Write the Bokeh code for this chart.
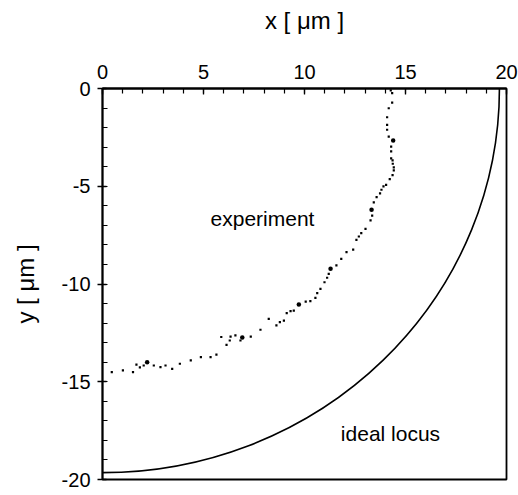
from bokeh.plotting import figure
from bokeh.models import Range1d, LinearAxis, FixedTicker, Label
from bokeh.embed import file_html
from bokeh.resources import INLINE

# ---- data ----
x_ticks = [0, 5, 10, 15, 20]
y_ticks = [0, -5, -10, -15, -20]
x_tick_labels = ["0", "5", "10", "15", "20"]
y_tick_labels = ["0", "-5", "-10", "-15", "-20"]
x_minor = list(range(0, 21))
y_minor = list(range(-20, 1))

ideal_radius = 19.65  # ideal locus: quarter circle centred at origin

exp_x = [14.27, 14.34, 14.34, 14.17, 14.09, 14.09, 14.09, 14.17, 14.29, 14.29,
         14.29, 14.36, 14.37, 14.42, 14.42, 14.36, 14.22, 14.04, 13.91, 13.81,
         13.74, 13.57, 13.43, 13.35, 13.27, 13.02, 12.81, 12.69, 12.57, 12.41,
         12.08, 11.82, 11.58, 11.20, 11.12, 10.99, 10.79, 10.63, 10.54, 10.29,
         10.06, 9.47, 9.31, 9.12, 8.98, 8.78, 8.61, 8.23, 7.82, 7.34,
         6.83, 6.58, 6.34, 5.88, 6.30, 6.14, 5.64, 5.35, 4.87, 4.37,
         3.83, 3.45, 3.12, 2.87, 2.54, 2.04, 1.85, 1.68, 1.51, 1.01, 0.46]
exp_y = [-0.10, -0.24, -0.72, -1.01, -1.47, -1.86, -2.11, -2.46, -2.97, -3.22,
         -3.57, -3.68, -3.85, -4.03, -4.19, -4.43, -4.64, -4.93, -5.01, -5.18,
         -5.36, -5.56, -5.82, -6.50, -6.75, -7.18, -7.40, -7.57, -7.74, -8.24,
         -8.37, -8.71, -9.05, -9.48, -9.68, -9.91, -10.25, -10.47, -10.71, -10.88,
         -10.90, -11.36, -11.39, -11.49, -11.87, -11.95, -12.12, -11.78, -12.34, -12.69,
         -12.89, -12.63, -12.69, -12.71, -12.89, -13.11, -13.61, -13.74, -13.74, -13.91,
         -14.08, -14.34, -14.17, -14.25, -14.17, -14.17, -14.26, -14.12, -14.51, -14.42, -14.51]

# denser clusters of samples along the track
cluster_x = [14.39, 13.32, 11.29, 9.72, 6.92, 2.21]
cluster_y = [-2.66, -6.20, -9.22, -11.05, -12.74, -14.00]

FONT = "Liberation Sans"

p = figure(width=518, height=495, output_backend="svg", toolbar_location=None,
           x_range=Range1d(0, 20), y_range=Range1d(-20, 0),
           x_axis_location=None, y_axis_location=None,
           min_border_left=102, min_border_right=12,
           min_border_top=88, min_border_bottom=16)
p.grid.visible = False
p.outline_line_color = "black"
p.outline_line_width = 1.8
p.background_fill_color = "white"
p.border_fill_color = "white"

xa = LinearAxis(ticker=FixedTicker(ticks=x_ticks, minor_ticks=x_minor),
                axis_label="x [ μm ]")
ya = LinearAxis(ticker=FixedTicker(ticks=y_ticks, minor_ticks=y_minor),
                axis_label="y [ μm ]")
xa.major_label_overrides = {t: s for t, s in zip(x_ticks, x_tick_labels)}
ya.major_label_overrides = {t: s for t, s in zip(y_ticks, y_tick_labels)}
for ax in (xa, ya):
    ax.axis_line_color = "black"
    ax.axis_line_width = 1.8
    ax.major_tick_line_width = 1.3
    ax.minor_tick_line_width = 1.2
    ax.major_label_text_font = FONT
    ax.major_label_text_font_size = "20px"
    ax.major_label_text_color = "black"
    ax.axis_label_text_font = FONT
    ax.axis_label_text_font_size = "24px"
    ax.axis_label_text_font_style = "normal"
    ax.axis_label_text_color = "black"

xa.major_tick_in = 6
xa.major_tick_out = 0
xa.minor_tick_in = 5
xa.minor_tick_out = 0
xa.major_label_standoff = 10
xa.axis_label_standoff = 28

ya.major_tick_in = 4
ya.major_tick_out = 5
ya.minor_tick_in = 5
ya.minor_tick_out = 0
ya.major_label_standoff = 7
ya.axis_label_standoff = 20

p.add_layout(xa, "above")
p.add_layout(ya, "left")

# ideal locus
p.ellipse(x=[0], y=[0], width=[2 * ideal_radius], height=[2 * ideal_radius],
          fill_color=None, line_color="black", line_width=1.6)

# experiment track
p.scatter(x=exp_x, y=exp_y, size=2.2, marker="square",
          fill_color="black", line_color=None)
p.scatter(x=cluster_x, y=cluster_y, size=4.5, marker="circle",
          fill_color="black", line_color=None)

p.add_layout(Label(x=5.35, y=-6.65, text="experiment", text_font=FONT,
                   text_font_size="21px", text_color="black",
                   text_baseline="alphabetic"))
p.add_layout(Label(x=11.8, y=-17.63, text="ideal locus", text_font=FONT,
                   text_font_size="21px", text_color="black",
                   text_baseline="alphabetic"))

open("out.html", "w").write(file_html(p, INLINE))
